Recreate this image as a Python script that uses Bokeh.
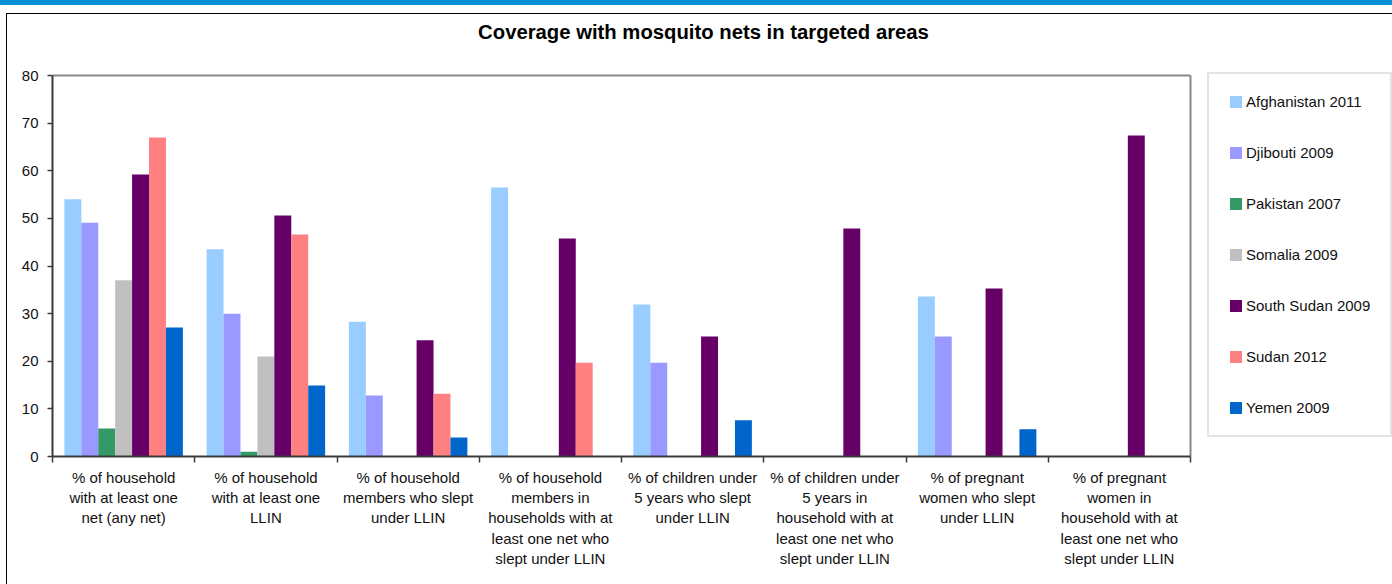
from bokeh.plotting import figure
from bokeh.models import (Range1d, FixedTicker, Legend, LegendItem, Label,
                          InlineStyleSheet)
from bokeh.embed import file_html
from bokeh.resources import INLINE

# ---- data -------------------------------------------------------------
title_text = "Coverage with mosquito nets in targeted areas"

categories = [
    "% of household\nwith at least one\nnet (any net)",
    "% of household\nwith at least one\nLLIN",
    "% of household\nmembers who slept\nunder LLIN",
    "% of household\nmembers in\nhouseholds with at\nleast one net who\nslept under LLIN",
    "% of children under\n5 years who slept\nunder LLIN",
    "% of children under\n5 years in\nhousehold with at\nleast one net who\nslept under LLIN",
    "% of pregnant\nwomen who slept\nunder LLIN",
    "% of pregnant\nwomen in\nhousehold with at\nleast one net who\nslept under LLIN",
]

series_names = ["Afghanistan 2011", "Djibouti 2009", "Pakistan 2007",
                "Somalia 2009", "South Sudan 2009", "Sudan 2012", "Yemen 2009"]

afghanistan_2011 = [54.0, 43.5, 28.3, 56.5, 31.9, None, 33.6, None]
djibouti_2009 = [49.1, 30.0, 12.8, None, 19.7, None, 25.2, None]
pakistan_2007 = [5.9, 1.0, None, None, None, None, None, None]
somalia_2009 = [37.0, 21.0, None, None, None, None, None, None]
south_sudan_2009 = [59.2, 50.6, 24.4, 45.8, 25.2, 47.9, 35.3, 67.4]
sudan_2012 = [67.0, 46.6, 13.2, 19.7, None, None, None, None]
yemen_2009 = [27.1, 14.9, 4.0, None, 7.6, None, 5.7, None]

series_values = [afghanistan_2011, djibouti_2009, pakistan_2007, somalia_2009,
                 south_sudan_2009, sudan_2012, yemen_2009]

y_ticks = [0, 10, 20, 30, 40, 50, 60, 70, 80]
y_max = 80

# ---- styling ----------------------------------------------------------
colors = ["#99CCFF", "#9999FF", "#339966", "#C0C0C0", "#660066", "#FF8080", "#0066CC"]
FONT = "Liberation Sans"
AXIS_DARK = "#3A3A3A"
bar_w = 0.119
n_groups = len(categories)

# the plotting frame runs past the value area to the right and upwards,
# leaving room for the legend and the title; axes are bounded to the data
px_per_group = 1138 / n_groups
px_per_unit = 381 / y_max
x_end = n_groups + 202 / px_per_group
y_end = y_max + 60 / px_per_unit

# blue band along the top of the page and the open black frame round the chart
page_css = InlineStyleSheet(css="""
:host { position: relative; }
:host::before {
  content: ""; position: absolute; left: 0; top: 0;
  width: 1392px; height: 5px; background: #0A8FD6;
  z-index: 5; pointer-events: none;
}
:host::after {
  content: ""; position: absolute; left: 6px; top: 13px;
  width: 1386px; height: 571px; box-sizing: border-box;
  border-left: 1.5px solid #000; border-top: 1.5px solid #000;
  z-index: 5; pointer-events: none;
}
""")

p = figure(width=1392, height=584, output_backend="svg", toolbar_location=None,
           x_range=Range1d(0, x_end), y_range=Range1d(0, y_end),
           min_border_left=52, min_border_right=0,
           min_border_top=15, min_border_bottom=128, title=None,
           stylesheets=[page_css])
p.grid.visible = False
p.outline_line_color = None
p.background_fill_color = "white"
p.border_fill_color = "white"

# y axis
p.yaxis.bounds = (0, y_max)
p.yaxis.ticker = FixedTicker(ticks=y_ticks)
p.yaxis.minor_tick_line_color = None
p.yaxis.major_tick_out = 5
p.yaxis.major_tick_in = 0
p.yaxis.axis_line_width = 2
p.yaxis.axis_line_color = AXIS_DARK
p.yaxis.major_tick_line_color = AXIS_DARK
p.yaxis.major_tick_line_width = 1.5
p.yaxis.major_label_text_font = FONT
p.yaxis.major_label_text_font_size = "15px"
p.yaxis.major_label_text_color = "#111111"
p.yaxis.major_label_standoff = 9

# x axis: category names at group centres, separator ticks between groups
centres = [i + 0.5 for i in range(n_groups)]
p.xaxis.bounds = (0, n_groups)
p.xaxis.ticker = FixedTicker(ticks=centres, minor_ticks=list(range(n_groups + 1)))
p.xaxis.major_label_overrides = {c: cat for c, cat in zip(centres, categories)}
p.xaxis.major_tick_line_color = None
p.xaxis.major_tick_out = 0
p.xaxis.major_tick_in = 0
p.xaxis.minor_tick_out = 6
p.xaxis.minor_tick_in = 0
p.xaxis.minor_tick_line_color = AXIS_DARK
p.xaxis.minor_tick_line_width = 1.5
p.xaxis.axis_line_width = 2
p.xaxis.axis_line_color = AXIS_DARK
p.xaxis.major_label_text_font = FONT
p.xaxis.major_label_text_font_size = "15px"
p.xaxis.major_label_text_color = "#111111"
p.xaxis.major_label_text_line_height = 1.2
p.xaxis.major_label_standoff = 6

# top and right edges of the value area
p.segment(x0=[0, n_groups], y0=[y_max, 0], x1=[n_groups, n_groups], y1=[y_max, y_max],
          line_color="#888888", line_width=2)

# bars
items = []
n = len(series_names)
for j, (name, vals, col) in enumerate(zip(series_names, series_values, colors)):
    xs = [i + 0.5 + (j - (n - 1) / 2) * bar_w for i, v in enumerate(vals) if v is not None]
    tops = [v for v in vals if v is not None]
    r = p.vbar(x=xs, top=tops, bottom=0, width=bar_w, fill_color=col, line_color=None)
    items.append(LegendItem(label=name, renderers=[r]))

legend = Legend(items=items, location=(1155, 19), orientation="vertical",
                padding=19, spacing=34, margin=0,
                glyph_width=15, glyph_height=15, label_height=17, label_width=125,
                label_standoff=3, label_text_font=FONT, label_text_font_size="15px",
                label_text_color="#111111",
                border_line_color="#C8C8C8", border_line_width=2,
                background_fill_color="white", background_fill_alpha=1)
p.add_layout(legend)

# chart title
p.add_layout(Label(x=651, y=425, x_units="screen", y_units="screen",
                   text=title_text, text_align="center", text_baseline="middle",
                   text_font=FONT, text_font_size="20.3px", text_font_style="bold",
                   text_color="#000000"))

open("out.html", "w").write(file_html(p, INLINE))
